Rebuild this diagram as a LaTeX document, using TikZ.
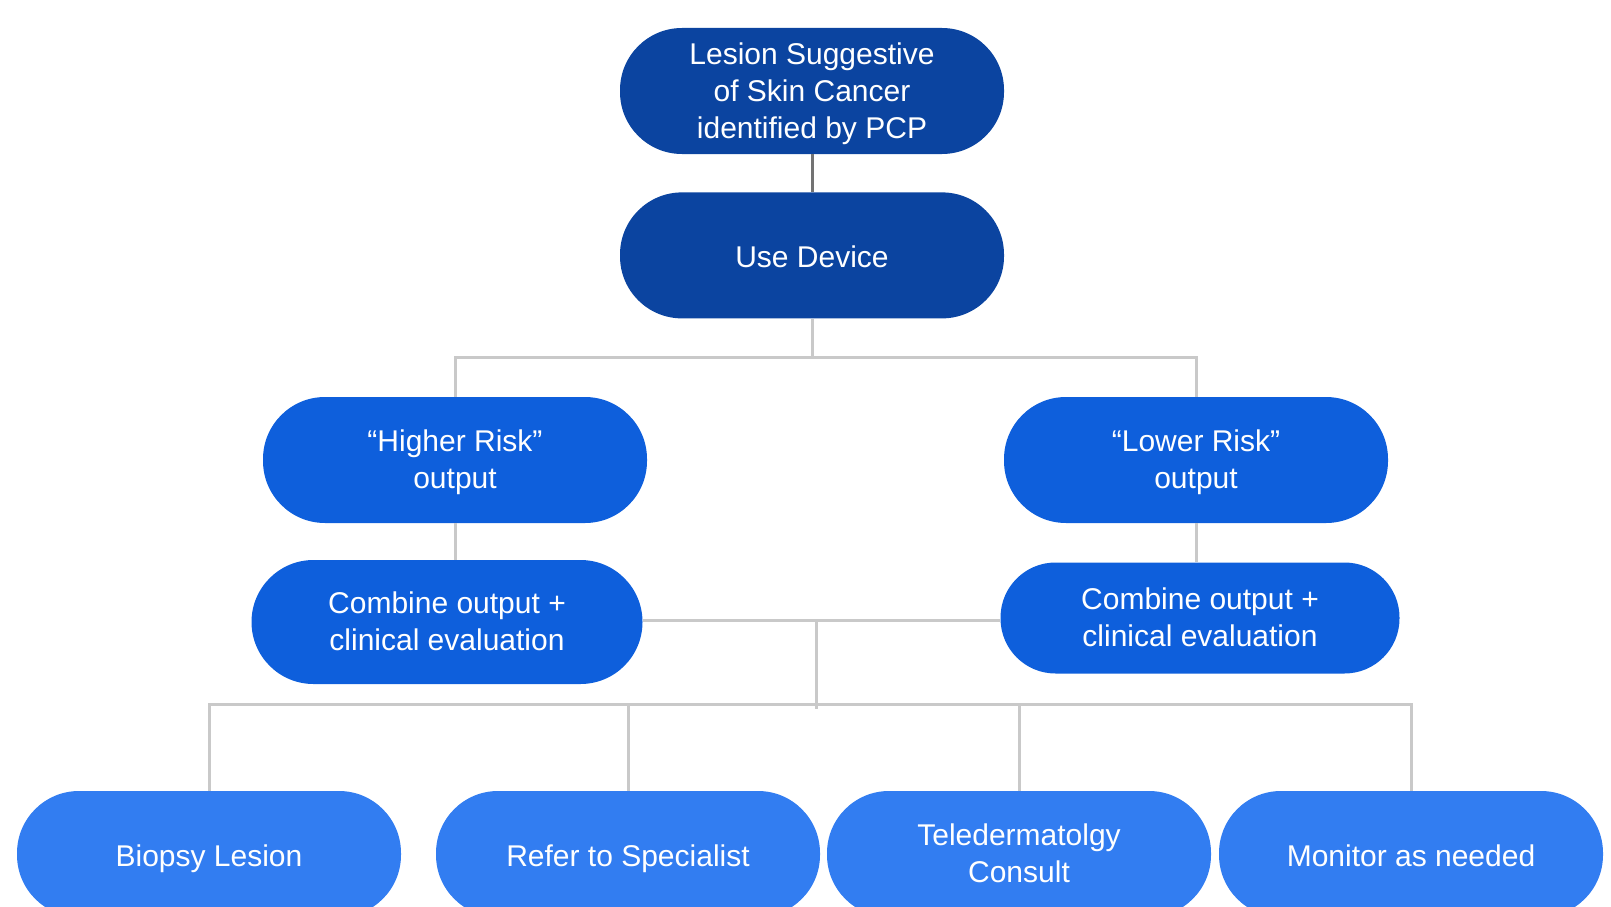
\documentclass[tikz,border=0pt]{standalone}
\usepackage{fontspec}
\setmainfont{Liberation Sans}
\usepackage{tikz}
\usetikzlibrary{positioning}

\definecolor{navy}{HTML}{0B44A0}
\definecolor{midblue}{HTML}{0E5FDC}
\definecolor{skyblue}{HTML}{327DF1}
\definecolor{linkgray}{HTML}{C9C9C9}

\tikzset{
x=1pt, y=-1pt, % one unit is one pixel of the layout
pill/.style={rectangle, rounded corners=62pt, text=white, align=center,
  minimum width=384pt, minimum height=126pt, inner sep=0pt,
  font=\fontsize{30}{37}\selectfont, text depth=1pt,
  execute at begin node=\strut}, % the rounded boxes
toppill/.style={pill, fill=navy},
midpill/.style={pill, fill=midblue},
lowpill/.style={pill, fill=skyblue},
link/.style={draw=linkgray, line width=3pt}, % the light grey connectors
}

\begin{document}
\begin{tikzpicture}
\useasboundingbox (0,0) rectangle (1611,907);
\clip (0,0) rectangle (1611,907);

\node[toppill] (lesion) at (812,91) {Lesion Suggestive\\of Skin Cancer\\identified by PCP};
\node[toppill, below=38pt of lesion] (device) {Use Device};

\node[midpill] (high) at (455,460) {“Higher Risk”\\output};
\node[midpill] (low) at (1196,460) {“Lower Risk”\\output};
\node[midpill, minimum width=391pt, minimum height=124pt] (combL) at (447,622) {Combine output +\\clinical evaluation};
\node[midpill, minimum width=399pt, minimum height=111pt, rounded corners=55pt] (combR) at (1200,618) {Combine output +\\clinical evaluation};

\node[lowpill] (biopsy) at (209,854) {Biopsy Lesion};
\node[lowpill] (refer) at (628,854) {Refer to Specialist};
\node[lowpill] (tele) at (1019,854) {Teledermatolgy\\Consult};
\node[lowpill] (monitor) at (1411,854) {Monitor as needed};

\coordinate (split) at (812,357);
\coordinate (merge) at (816,620);
\coordinate (fan) at (816,704);

\draw[draw=black!55, line width=3pt] (lesion) -- (device);
\draw[link]
(device) -- (split)
(split) -| (high.north)
(split) -| (low.north)
(high.south) -- (high.south |- combL.north)
(low.south) -- (low.south |- combR.north)
(combL.east |- merge) -- (combR.west |- merge)
(merge) -- (816,709)
(fan) -| (biopsy.north)
(fan) -| (refer.north)
(fan) -| (tele.north)
(fan) -| (monitor.north);

\end{tikzpicture}
\end{document}
